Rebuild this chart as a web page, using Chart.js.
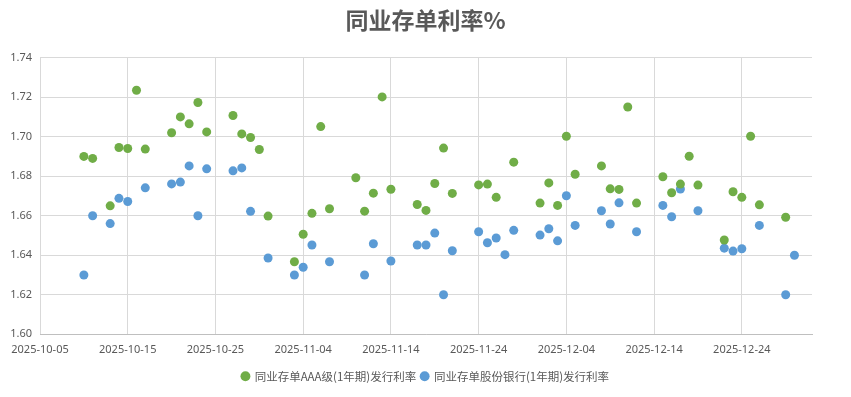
<!DOCTYPE html>
<html>
<head>
<meta charset="utf-8">
<script src="https://cdn.jsdelivr.net/npm/chart.js@4.4.1/dist/chart.umd.min.js"></script>
<style>
  html, body { margin: 0; padding: 0; background: #fff; }
  #wrap { width: 851px; height: 397px; }
</style>
</head>
<body>
<div id="wrap"><canvas id="rateChart" width="851" height="397"></canvas></div>
<script>
// 日期（工作日）
const dates = [
    '2025-10-10', '2025-10-11', '2025-10-13', '2025-10-14', '2025-10-15', '2025-10-16', '2025-10-17',
    '2025-10-20', '2025-10-21', '2025-10-22', '2025-10-23', '2025-10-24',
    '2025-10-27', '2025-10-28', '2025-10-29', '2025-10-30', '2025-10-31',
    '2025-11-03', '2025-11-04', '2025-11-05', '2025-11-06', '2025-11-07',
    '2025-11-10', '2025-11-11', '2025-11-12', '2025-11-13', '2025-11-14',
    '2025-11-17', '2025-11-18', '2025-11-19', '2025-11-20', '2025-11-21',
    '2025-11-24', '2025-11-25', '2025-11-26', '2025-11-27', '2025-11-28',
    '2025-12-01', '2025-12-02', '2025-12-03', '2025-12-04', '2025-12-05',
    '2025-12-08', '2025-12-09', '2025-12-10', '2025-12-11', '2025-12-12',
    '2025-12-15', '2025-12-16', '2025-12-17', '2025-12-18', '2025-12-19',
    '2025-12-22', '2025-12-23', '2025-12-24', '2025-12-25', '2025-12-26',
    '2025-12-29', '2025-12-30'
];

// 同业存单AAA级(1年期)发行利率
const aaaRates = [
    1.690, 1.689, 1.665, 1.6945, 1.694, 1.7235, 1.6937,
    1.702, 1.710, 1.7065, 1.7173, 1.7024,
    1.7107, 1.7014, 1.6996, 1.6935, 1.6598,
    1.6367, 1.6506, 1.6612, 1.7051, 1.6635,
    1.6792, 1.6623, 1.6714, 1.7201, 1.6734,
    1.6657, 1.6627, 1.6763, 1.6942, 1.6713,
    1.6756, 1.676, 1.6693, null, 1.6871,
    1.6664, 1.6766, 1.6652, 1.7002, 1.681,
    1.6852, 1.6736, 1.6733, 1.715, 1.6664,
    1.6797, 1.6716, 1.676, 1.6901, 1.6755,
    1.6477, 1.6721, 1.6693, 1.7002, 1.6655,
    1.6592, null
];

// 同业存单股份银行(1年期)发行利率
const jointStockRates = [
    1.630, 1.660, 1.656, 1.6688, 1.6672, null, 1.6741,
    1.6761, 1.677, 1.6852, 1.660, 1.6837,
    1.6827, 1.6842, 1.6622, null, 1.6386,
    1.630, 1.6339, 1.6452, null, 1.6367,
    null, 1.630, 1.6458, null, 1.6371,
    1.6452, 1.6452, 1.6512, 1.620, 1.6423,
    1.6519, 1.6463, 1.6487, 1.6403, 1.6526,
    1.6502, 1.6534, 1.6473, 1.6701, 1.6551,
    1.6625, 1.6558, 1.6665, null, 1.6519,
    1.6652, 1.6595, 1.6735, null, 1.6625,
    1.6436, 1.6421, 1.6433, null, 1.6551,
    1.620, 1.640
];

const startDate = '2025-10-05';
const endDate = '2026-01-01';
const yTicks = [1.60, 1.62, 1.64, 1.66, 1.68, 1.70, 1.72, 1.74];

const DAY = 86400000;
const t0 = Date.parse(startDate);
const toDay = d => Math.round((Date.parse(d) - t0) / DAY);
const fromDay = n => new Date(t0 + n * DAY).toISOString().slice(0, 10);

function toPoints(values) {
    return dates.map((d, i) => ({ x: toDay(d), y: values[i] })).filter(p => p.y !== null);
}

const textColor = '#595959';
const gridColor = '#d9d9d9';

new Chart(document.getElementById('rateChart').getContext('2d'), {
    type: 'scatter',
    data: {
        datasets: [{
            label: '同业存单AAA级(1年期)发行利率',
            data: toPoints(aaaRates),
            backgroundColor: '#70ad47',
            borderWidth: 0,
            pointRadius: 4.5,
            pointHoverRadius: 5
        }, {
            label: '同业存单股份银行(1年期)发行利率',
            data: toPoints(jointStockRates),
            backgroundColor: '#5b9bd5',
            borderWidth: 0,
            pointRadius: 4.5,
            pointHoverRadius: 5
        }]
    },
    options: {
        responsive: false,
        animation: false,
        layout: { padding: { left: 0, right: 0, top: 4, bottom: 5 } },
        plugins: {
            title: {
                display: true,
                text: '同业存单利率%',
                color: textColor,
                font: { family: '"Noto Sans CJK SC", sans-serif', size: 23, weight: 'bold' },
                padding: { top: 2, bottom: 24 }
            },
            legend: {
                position: 'bottom',
                labels: {
                    usePointStyle: true,
                    pointStyle: 'circle',
                    boxWidth: 7,
                    boxHeight: 7,
                    padding: 5,
                    color: textColor,
                    font: { family: '"Noto Sans CJK SC", sans-serif', size: 11.5 }
                }
            },
            tooltip: { enabled: false }
        },
        scales: {
            x: {
                type: 'linear',
                min: 0,
                max: toDay(endDate),
                grid: { color: gridColor, drawTicks: false },
                border: { color: '#bfbfbf' },
                afterBuildTicks: scale => {
                    const ticks = [];
                    for (let v = 0; v < scale.max; v += 10) ticks.push({ value: v });
                    scale.ticks = ticks;
                },
                ticks: {
                    color: textColor,
                    maxRotation: 0,
                    padding: 9,
                    font: { family: '"Noto Sans", sans-serif', size: 11 },
                    callback: v => fromDay(v)
                }
            },
            y: {
                min: 1.60,
                max: 1.74,
                grid: { color: gridColor, drawTicks: false },
                border: { display: false },
                afterBuildTicks: scale => { scale.ticks = yTicks.map(v => ({ value: v })); },
                afterFit: scale => { scale.width = 40; },
                ticks: {
                    color: textColor,
                    padding: 8,
                    font: { family: '"Noto Sans", sans-serif', size: 11 },
                    callback: v => v.toFixed(2)
                }
            },
            // 右侧留白
            yRight: {
                position: 'right',
                min: 1.60,
                max: 1.74,
                grid: { display: false },
                border: { display: false },
                ticks: { display: false },
                afterFit: scale => { scale.width = 39; }
            }
        }
    }
});
</script>
</body>
</html>
